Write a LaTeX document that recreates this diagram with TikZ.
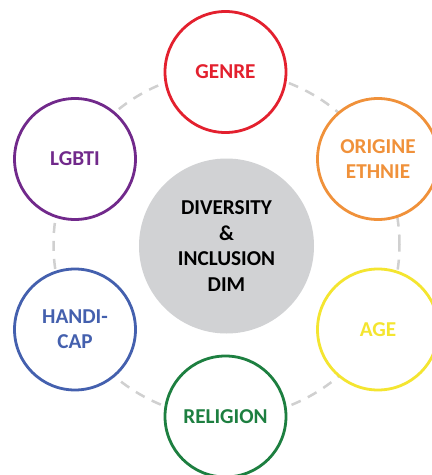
\documentclass[tikz,border=0pt]{standalone}
\usepackage{fontspec}
\setmainfont{Carlito}
\definecolor{cgenre}{HTML}{E3202E}
\definecolor{corig}{HTML}{F0913A}
\definecolor{cage}{HTML}{F4E530}
\definecolor{crel}{HTML}{1D7F40}
\definecolor{chand}{HTML}{4460AE}
\definecolor{clgbt}{HTML}{71298B}
\definecolor{ccenter}{HTML}{D1D2D4}
\definecolor{cdash}{HTML}{D0D0D0}
\begin{document}
\begin{tikzpicture}[x=1pt,y=-1pt,
  dim/.style={circle, draw=#1, text=#1, line width=2.8pt, fill=white,
    minimum size=121pt, inner sep=0pt, align=center,
    font=\bfseries\fontsize{21.2}{25}\selectfont},
  core/.style={circle, fill=ccenter, minimum size=175pt, inner sep=0pt,
    align=center, font=\bfseries\fontsize{21.2}{25.5}\selectfont}]
\useasboundingbox (0,0) rectangle (432,475);
\fill[white] (0,0) rectangle (432,475);
\coordinate (c) at (226.5,244.5);
\draw[cdash, line width=2.5pt, dash pattern=on 10pt off 8pt] (c) circle[radius=173pt];
\node[core] (center) at (226.5,246) {DIVERSITY\\\&\\INCLUSION\\DIM};
\node[dim=cgenre] (genre) at (225.5,72) {GENRE};
\node[dim=corig] (orig) at (378,159) {ORIGINE\\ETHNIE};
\node[dim=cage] (age) at (378,329.5) {AGE};
\node[dim=crel] (rel) at (225.5,416.5) {RELIGION};
\node[dim=chand] (hand) at (75,329.5) {HANDI-\\CAP};
\node[dim=clgbt] (lgbt) at (75,159) {LGBTI};
\end{tikzpicture}
\end{document}
